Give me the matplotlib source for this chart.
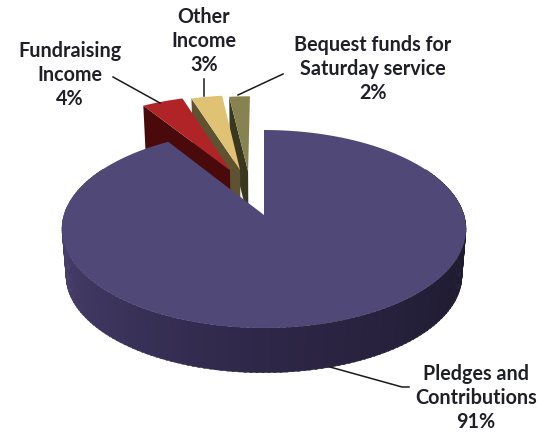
import numpy as np
import matplotlib.pyplot as plt

labels = ["Pledges and\nContributions\n91%", "Fundraising\nIncome\n4%", "Other\nIncome\n3%", "Bequest funds for\nSaturday service\n2%"]
values = [91, 4, 3, 2]

top_colors = ["#504877", "#b02326", "#e0c274", "#878350"]
cut_colors = ["#3a3358", "#4a0a0c", "#5f5230", "#3a3620"]
# how far each slice is pulled out of the pie (in pie plane)
explode = [(0, 0), (-0.182, 0.496), (-0.128, 0.496), (-0.085, 0.48)]

label_pos = [(476, 398), (70, 75), (204, 41), (373, 69)]
leader = [[(330, 367), (402, 387), (409, 387)], [(113, 77), (160, 103)], [(204, 79), (204, 96)], [(283, 74), (238, 95)]]

# perspective of the pie, pixels
cx, cy = 264, 215
sx, sy = 200, 97
persp = 0.1414
depth = 47
shrink = 0.98


def project(u, v, low=False):
    u = np.asarray(u, dtype=float)
    v = np.asarray(v, dtype=float)
    k = shrink if low else 1
    d = depth if low else 0
    return cx + k * sx * u / (1 + persp * v), cy - k * sy * v / (1 + persp * v) + d


def rim(a0, a1, off, low=False, n=120):
    t = np.radians(np.linspace(a0, a1, n))
    return project(off[0] + np.sin(t), off[1] + np.cos(t), low)


fig = plt.figure(figsize=(5.38, 4.34), dpi=100)
ax = fig.add_axes([0, 0, 1, 1])
ax.set_xlim(0, 538)
ax.set_ylim(434, 0)
ax.axis("off")

ends = np.cumsum(values) / sum(values) * 360
starts = np.concatenate(([0], ends[:-1]))

# small slices, right one first so each face covers the next one's wall
for i in [3, 2, 1]:
    off = explode[i]
    a = np.radians(starts[i])
    ap = project(off[0], off[1])
    ap_low = project(off[0], off[1], True)
    r = project(off[0] + np.sin(a), off[1] + np.cos(a))
    r_low = project(off[0] + np.sin(a), off[1] + np.cos(a), True)
    ax.fill([r[0], ap[0], ap_low[0], r_low[0]], [r[1], ap[1], ap_low[1], r_low[1]], color=cut_colors[i], lw=0)
    x, y = rim(starts[i], ends[i], off)
    ax.fill(np.r_[ap[0], x], np.r_[ap[1], y], color=top_colors[i], lw=0)

# side wall of big slice, shaded strip by strip
wall_stops = [(60, "#1d1a2c"), (110, "#1f1b30"), (180, "#2e2748"), (250, "#443c68"), (285, "#4a4270")]
stop_a = [s[0] for s in wall_stops]
stop_c = np.array([[int(s[1][j:j + 2], 16) / 255 for j in (1, 3, 5)] for s in wall_stops])
ang = np.arange(60, 300, 1.5)
for a in ang:
    x1, y1 = rim(a, a + 2, (0, 0), n=2)
    x2, y2 = rim(a, a + 2, (0, 0), True, n=2)
    c = [np.interp(a, stop_a, stop_c[:, j]) for j in range(3)]
    ax.fill(np.r_[x1, x2[::-1]], np.r_[y1, y2[::-1]], color=c, lw=0.3)

x, y = rim(starts[0], ends[0], explode[0], n=500)
ax.fill(np.r_[cx, x], np.r_[cy, y], color=top_colors[0], lw=0)

for line in leader:
    ax.plot([p[0] for p in line], [p[1] for p in line], color="#1a1a1a", lw=1.1)

for lab, pos in zip(labels, label_pos):
    ax.text(pos[0], pos[1], lab, ha="center", va="center", family="Lato", fontweight="bold", fontsize=14.2,
            color="#1f1f28", linespacing=1.25)

fig.savefig("out.png", dpi=100)
